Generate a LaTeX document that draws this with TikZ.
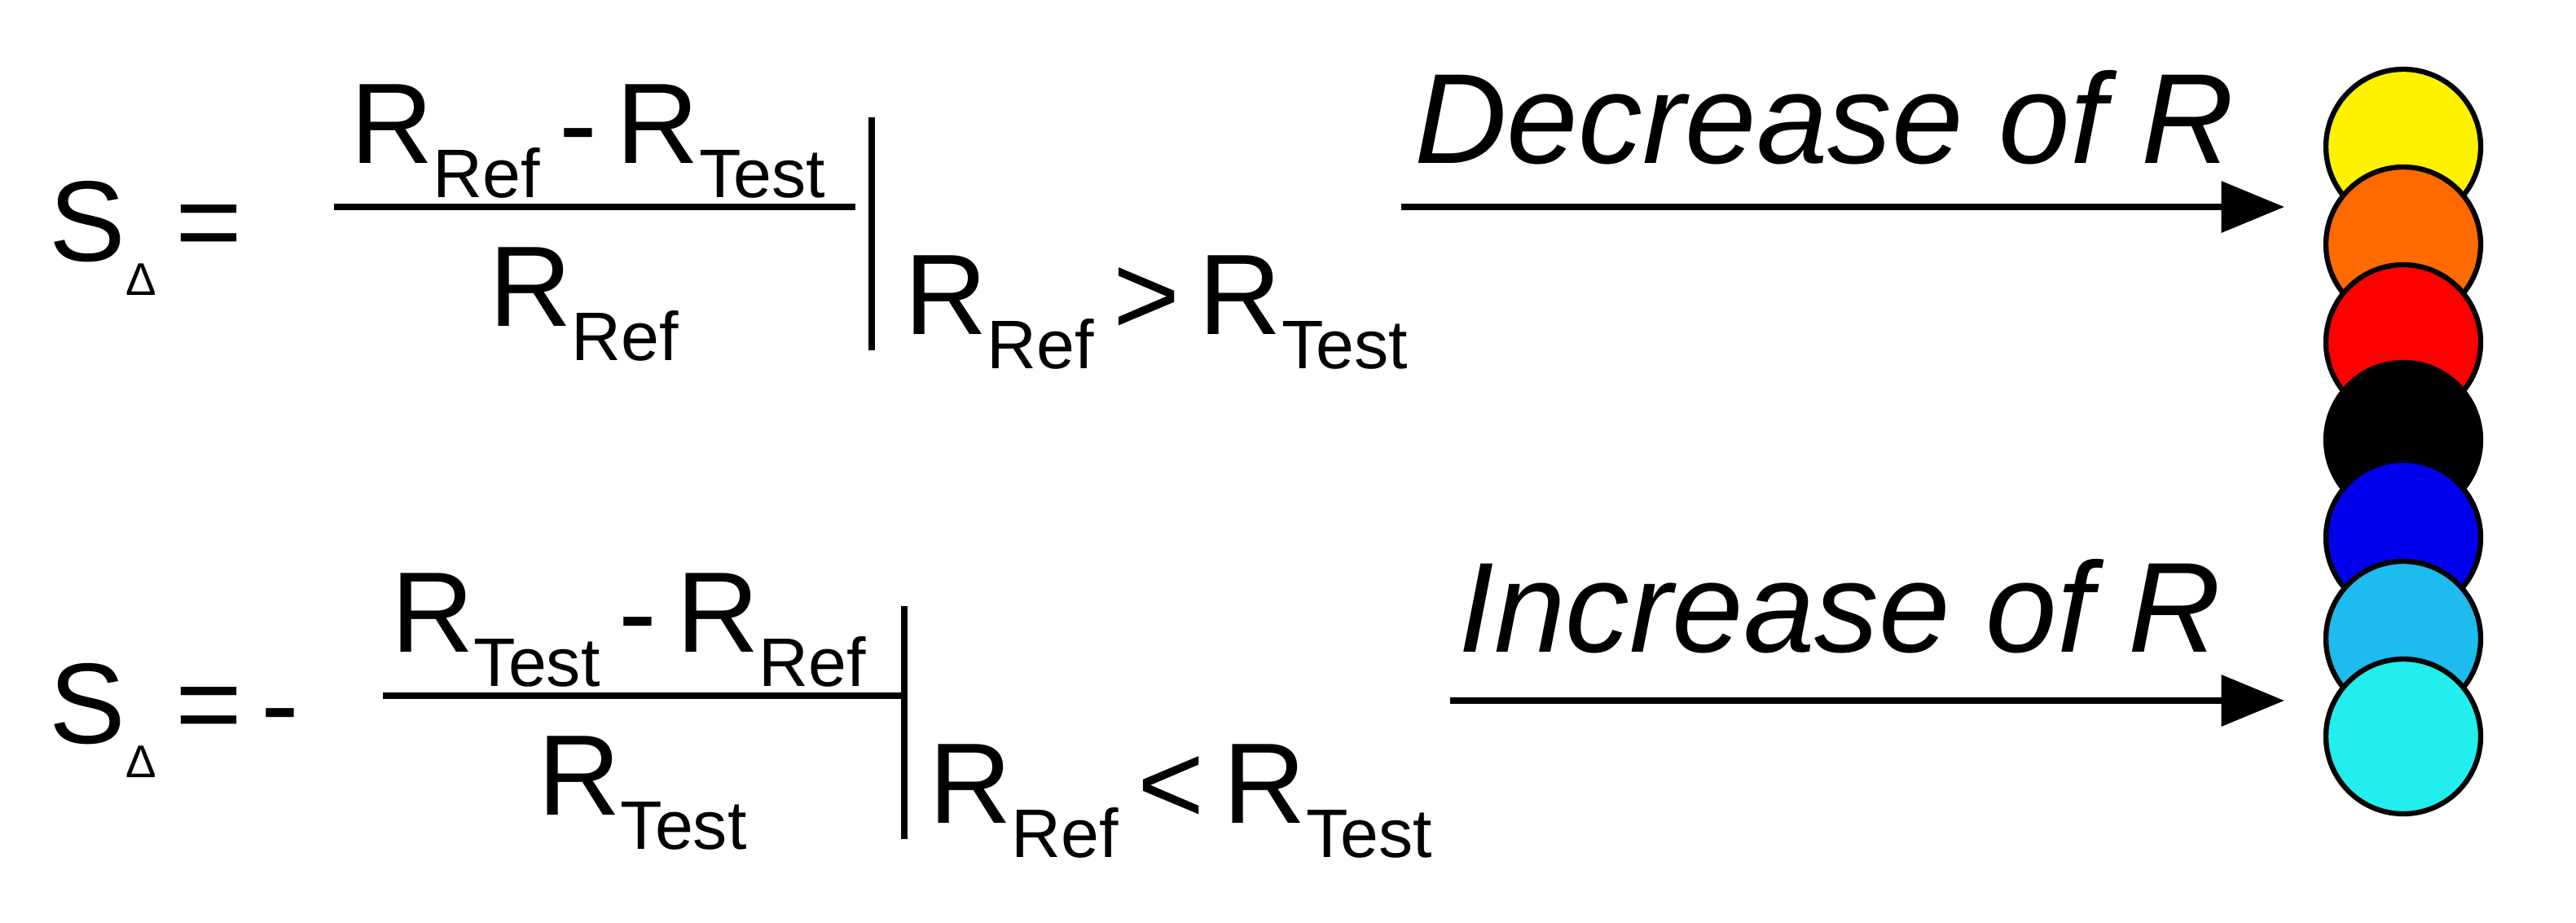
\documentclass[tikz,border=0pt]{standalone}
\usepackage{fontspec}
\setmainfont{Liberation Sans}
\usetikzlibrary{arrows.meta}
\newcommand{\mysb}[1]{\raisebox{-0.3em}{\fontsize{60}{66}\selectfont #1}}
\begin{document}
\begin{tikzpicture}[x=0.05cm,y=-0.05cm,
  txt/.style={anchor=base west,inner sep=0pt,font=\fontsize{100}{110}\selectfont},
  lab/.style={anchor=base west,inner sep=0pt,font=\fontsize{112}{120}\selectfont\itshape},
  rule/.style={line width=5pt},
  arr/.style={line width=5pt,-{Triangle[length=55pt,width=44pt]}},
  dot/.style={circle,draw=black,line width=4.5pt,minimum size=95*0.05cm,inner sep=0pt}]
\useasboundingbox (0,0) rectangle (1581,566);
% row 1
\node[txt] (s1) at (30,160) {S\mysb{\fontsize{40}{44}\selectfont Δ}\,=};
\node[txt] (n1) at (215,100) {R\mysb{Ref}\,-\,R\mysb{Test}};
\node[txt] (d1) at (300,200) {R\mysb{Ref}};
\draw[rule] (205,127) -- (525,127);
\draw[rule] (535,72) -- (535,215);
\node[txt] (c1) at (555,205) {R\mysb{Ref}\,>\,R\mysb{Test}};
\node[lab] (l1) at (868,100) {Decrease of R};
\coordinate (a1s) at (860,127);
\coordinate (a1e) at (1402,127);
\draw[arr] (a1s) -- (a1e);
% row 2
\node[txt] (s2) at (30,456) {S\mysb{\fontsize{40}{44}\selectfont Δ}\,=\,-};
\node[txt] (n2) at (240,400) {R\mysb{Test}\,-\,R\mysb{Ref}};
\node[txt] (d2) at (330,500) {R\mysb{Test}};
\draw[rule] (235,427) -- (555,427);
\draw[rule] (555,372) -- (555,515);
\node[txt] (c2) at (570,505) {R\mysb{Ref}\,<\,R\mysb{Test}};
\node[lab] (l2) at (895,400) {Increase of R};
\coordinate (a2s) at (890,430);
\coordinate (a2e) at (1402,430);
\draw[arr] (a2s) -- (a2e);
% circles
\definecolor{c1}{HTML}{FFF200}
\definecolor{c2}{HTML}{FF6A00}
\definecolor{c3}{HTML}{FF0000}
\definecolor{c4}{HTML}{000000}
\definecolor{c5}{HTML}{0000EE}
\definecolor{c6}{HTML}{1EBBEE}
\definecolor{c7}{HTML}{22EEEE}
\node[dot,fill=c1] (k1) at (1475,90) {};
\node[dot,fill=c2] (k2) at (1475,150) {};
\node[dot,fill=c3] (k3) at (1475,210) {};
\node[dot,fill=c4] (k4) at (1475,270) {};
\node[dot,fill=c5] (k5) at (1475,330) {};
\node[dot,fill=c6] (k6) at (1475,392) {};
\node[dot,fill=c7] (k7) at (1475,452) {};
\end{tikzpicture}
\end{document}
